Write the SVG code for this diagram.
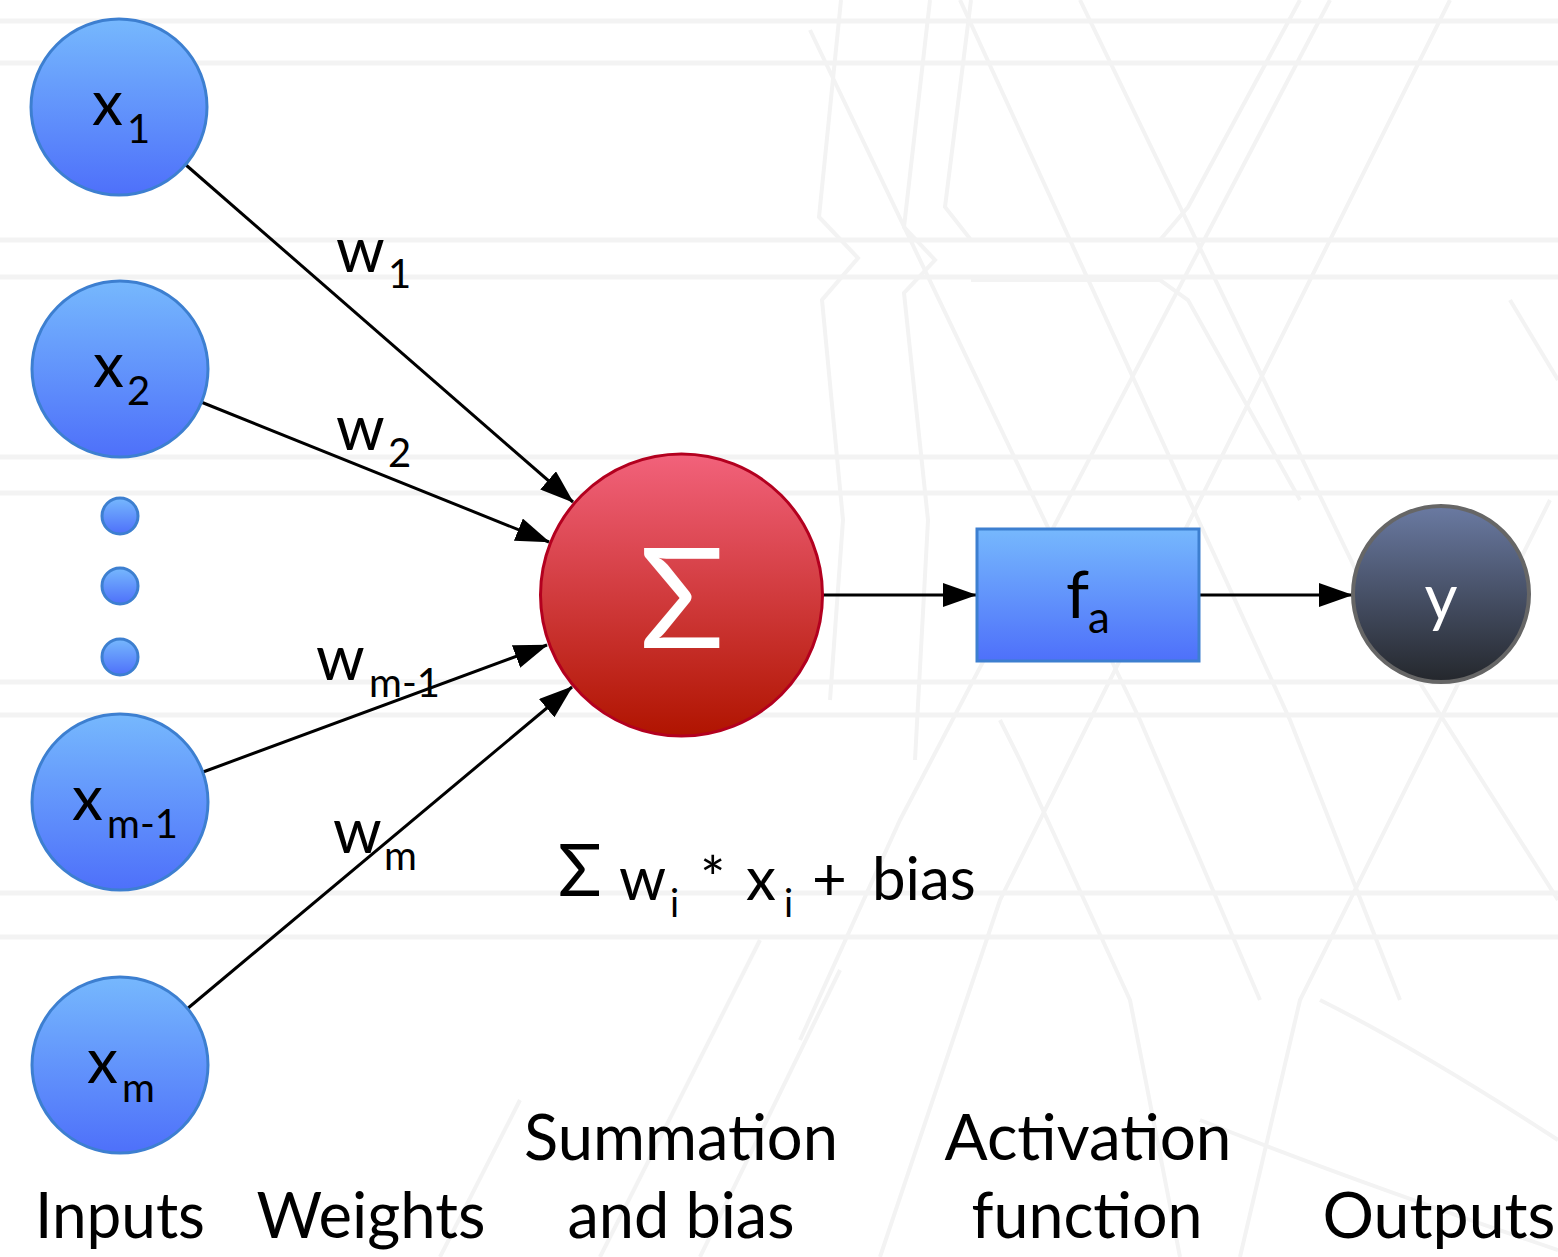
<svg xmlns="http://www.w3.org/2000/svg" width="1558" height="1257" viewBox="0 0 1558 1257">
<style>
.bg{stroke:#f3f3f3;stroke-width:5;fill:none}
.pat{stroke:#f3f3f3;stroke-width:4;fill:none}
.in{fill:url(#gBlue);stroke:#3d7fd0;stroke-width:3}
.lbl{font-family:Lato,"Open Sans",sans-serif;fill:#000}
.big{font-size:62px}
.sub{font-size:40px}
.cap{font-family:Lato,"Open Sans",sans-serif;font-size:64px;fill:#000;text-anchor:middle}
.con{stroke:#000;stroke-width:3;fill:none;marker-end:url(#arr)}
</style>
<defs>
<linearGradient id="gBlue" x1="0" y1="0" x2="0" y2="1"><stop offset="0" stop-color="#76b8fd"/><stop offset="1" stop-color="#4e70fa"/></linearGradient>
<linearGradient id="gRed" x1="0" y1="0" x2="0" y2="1"><stop offset="0" stop-color="#f2627b"/><stop offset="1" stop-color="#b01400"/></linearGradient>
<linearGradient id="gDark" x1="0" y1="0" x2="0" y2="1"><stop offset="0" stop-color="#6a7aa2"/><stop offset="1" stop-color="#24272c"/></linearGradient>
<marker id="arr" markerUnits="userSpaceOnUse" markerWidth="34" markerHeight="24" refX="33" refY="12" orient="auto"><path d="M0,0 L34,12 L0,24 z" fill="#000"/></marker>
</defs>
<rect width="1558" height="1257" fill="#fff"/>
<g id="background">
<path class="bg" d="M0,21H1558M0,63H1558M0,240H1558M0,277H1558M0,457H1558M0,493H1558M0,682H1558M0,715H1558M0,893H1558M0,937H1558"/>
<path class="pat" d="M841,0 L819,217 L858,258 L822,300 L843,520 L830,700"/>
<path class="pat" d="M930,0 L904,227 L935,260 L904,293 L928,520 L915,760"/>
<path class="pat" d="M971,0 L945,207 L971,240 L1160,240 L1188,207 L1300,0"/>
<path class="pat" d="M971,280 L1160,280 L1188,300 L1300,500"/>
<path class="pat" d="M960,0 L1290,720 L1400,1000"/>
<path class="pat" d="M1080,0 L1380,620 L1558,900"/>
<path class="pat" d="M1330,0 L900,820 L800,1040"/>
<path class="pat" d="M1450,0 L1000,900 L880,1257"/>
<path class="pat" d="M810,30 L1140,720 L1260,1000"/>
<path class="pat" d="M1510,300 L1558,380"/>
<path class="pat" d="M1000,720 L1020,760 L1130,1000 L1180,1257"/>
<path class="pat" d="M1550,500 L1300,1000 L1240,1257"/>
<path class="pat" d="M1320,1000 Q1420,1050 1558,1140"/>
<path class="pat" d="M1200,1120 Q1350,1180 1558,1250"/>
<path class="pat" d="M600,1257 L760,940"/>
<path class="pat" d="M440,1257 L520,1100"/>
<path class="pat" d="M700,1257 L840,970"/>
</g>
<g id="connectors">
<line class="con" x1="186" y1="165" x2="573" y2="502"/>
<line class="con" x1="201" y1="402" x2="549" y2="542"/>
<line class="con" x1="203" y1="772" x2="547" y2="645"/>
<line class="con" x1="187" y1="1009" x2="572" y2="687"/>
<line class="con" x1="823" y1="595" x2="976" y2="595"/>
<line class="con" x1="1200" y1="595" x2="1352" y2="595"/>
</g>
<g id="node-x1"><circle class="in" cx="119" cy="107" r="88"/><text class="lbl"><tspan class="big" x="92" y="125">x</tspan><tspan class="sub" x="127" y="143">1</tspan></text></g>
<g id="node-x2"><circle class="in" cx="120" cy="369" r="88"/><text class="lbl"><tspan class="big" x="93" y="387">x</tspan><tspan class="sub" x="127" y="405">2</tspan></text></g>
<g id="node-dots"><circle class="in" cx="120" cy="516" r="18"/><circle class="in" cx="120" cy="586" r="18"/><circle class="in" cx="120" cy="657" r="18"/></g>
<g id="node-xm1"><circle class="in" cx="120" cy="802" r="88"/><text class="lbl"><tspan class="big" x="72" y="820">x</tspan><tspan class="sub" x="107" y="838">m-1</tspan></text></g>
<g id="node-xm"><circle class="in" cx="120" cy="1065" r="88"/><text class="lbl"><tspan class="big" x="87" y="1083">x</tspan><tspan class="sub" x="122" y="1102">m</tspan></text></g>
<g id="weights">
<text class="lbl"><tspan class="big" x="336" y="272">w</tspan><tspan class="sub" x="388" y="288">1</tspan></text>
<text class="lbl"><tspan class="big" x="336" y="450">w</tspan><tspan class="sub" x="388" y="467">2</tspan></text>
<text class="lbl"><tspan class="big" x="316" y="680">w</tspan><tspan class="sub" x="369" y="697">m-1</tspan></text>
<text class="lbl"><tspan class="big" x="333" y="853">w</tspan><tspan class="sub" x="384" y="870">m</tspan></text>
</g>
<g id="node-sum"><circle cx="681.5" cy="595" r="141" fill="url(#gRed)" stroke="#b3001f" stroke-width="3"/><text x="682" y="648" font-family="Lato,'Open Sans',sans-serif" font-size="140" fill="#fff" text-anchor="middle">Σ</text></g>
<g id="node-fa"><rect x="977" y="529" width="222" height="132" fill="url(#gBlue)" stroke="#3d7fd0" stroke-width="3"/><text class="lbl"><tspan font-size="66" x="1066" y="618">f</tspan><tspan font-size="44" x="1088" y="633">a</tspan></text></g>
<g id="node-y"><circle cx="1441" cy="594" r="88" fill="url(#gDark)" stroke="#666" stroke-width="4"/><text x="1441" y="620" font-family="Lato,'Open Sans',sans-serif" font-size="64" fill="#fff" text-anchor="middle">y</text></g>
<g id="formula"><text class="lbl" font-size="60"><tspan x="558" y="896" font-size="72">Σ</tspan><tspan x="619" y="900">w</tspan><tspan x="670" y="917" font-size="38">i</tspan><tspan x="700" y="900">*</tspan><tspan x="746" y="900">x</tspan><tspan x="784" y="917" font-size="38">i</tspan><tspan x="812" y="900">+</tspan><tspan x="872" y="900">bias</tspan></text></g>
<g id="captions">
<text class="cap" x="120" y="1238" textLength="170" lengthAdjust="spacingAndGlyphs">Inputs</text>
<text class="cap" x="371" y="1238" textLength="229" lengthAdjust="spacingAndGlyphs">Weights</text>
<text class="cap" x="681" y="1160" textLength="314" lengthAdjust="spacingAndGlyphs">Summation</text>
<text class="cap" x="681" y="1238" textLength="227" lengthAdjust="spacingAndGlyphs">and bias</text>
<text class="cap" x="1088" y="1160" textLength="287" lengthAdjust="spacingAndGlyphs">Activation</text>
<text class="cap" x="1087" y="1238" textLength="231" lengthAdjust="spacingAndGlyphs">function</text>
<text class="cap" x="1439" y="1238" textLength="233" lengthAdjust="spacingAndGlyphs">Outputs</text>
</g>
</svg>
